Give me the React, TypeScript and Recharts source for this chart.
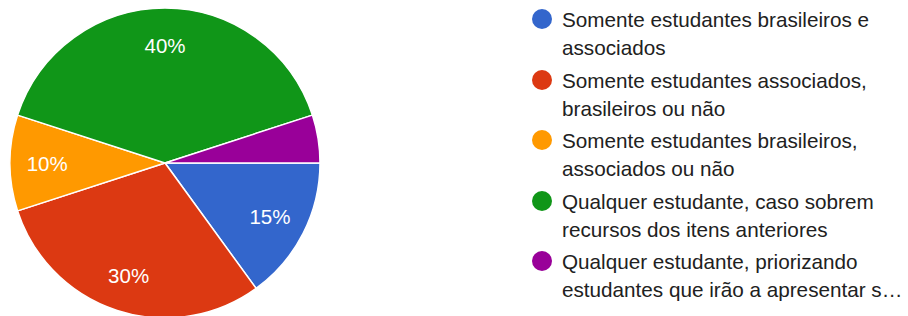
import { PieChart, Pie, Cell, Legend } from "recharts";

const categories = [
  "Somente estudantes brasileiros e associados",
  "Somente estudantes associados, brasileiros ou não",
  "Somente estudantes brasileiros, associados ou não",
  "Qualquer estudante, caso sobrem recursos dos itens anteriores",
  "Qualquer estudante, priorizando estudantes que irão a apresentar s…",
];

// legend text as it wraps in the original
const legendLines = [
  ["Somente estudantes brasileiros e", "associados"],
  ["Somente estudantes associados,", "brasileiros ou não"],
  ["Somente estudantes brasileiros,", "associados ou não"],
  ["Qualquer estudante, caso sobrem", "recursos dos itens anteriores"],
  ["Qualquer estudante, priorizando", "estudantes que irão a apresentar s…"],
];

const shares = [15, 30, 10, 40, 5];

const colors = ["#3366cc", "#dc3912", "#ff9900", "#109618", "#990099"];

const rows = categories.map((name, i) => ({ name, value: shares[i] }));

const FONT = '"Liberation Sans", Arial, Helvetica, sans-serif';
const RADIAN = Math.PI / 180;

function renderLabel(props: any) {
  const { cx, cy, midAngle, outerRadius, percent } = props;
  if (percent < 0.08) return null;
  const r = outerRadius * 0.76;
  const x = cx + r * Math.cos(-midAngle * RADIAN);
  const y = cy + r * Math.sin(-midAngle * RADIAN);
  return (
    <text x={x} y={y} fill="#fff" fontSize={20.5} fontFamily={FONT} textAnchor="middle" dominantBaseline="central">
      {`${Math.round(percent * 100)}%`}
    </text>
  );
}

function LegendBox() {
  // keep the data order (the default payload gets re-sorted)
  return (
    <div style={{ position: "relative", fontFamily: FONT, fontSize: 20.7, color: "#212121" }}>
      {rows.map((row, i) => (
        <div key={row.name} style={{ position: "absolute", left: 0, top: i * 60.5, lineHeight: "28px" }}>
          <span
            style={{
              position: "absolute",
              left: 0,
              top: 3,
              width: 20,
              height: 20,
              borderRadius: 10,
              background: colors[i],
            }}
          />
          <div style={{ marginLeft: 30, whiteSpace: "nowrap" }}>
            {legendLines[i].map((line, j) => (
              <div key={j}>{line}</div>
            ))}
          </div>
        </div>
      ))}
    </div>
  );
}

export default function App() {
  return (
    <div style={{ position: "absolute", left: 0, top: 0, width: 908, height: 316, background: "#fff" }}>
      <PieChart width={908} height={316} margin={{ top: 0, right: 0, bottom: 0, left: 0 }}>
        <Pie
          data={rows}
          dataKey="value"
          nameKey="name"
          cx={165}
          cy={163}
          outerRadius={155}
          startAngle={0}
          endAngle={-360}
          stroke="#fff"
          strokeWidth={1.5}
          label={renderLabel}
          labelLine={false}
          isAnimationActive={false}
        >
          {rows.map((r, i) => (
            <Cell key={r.name} fill={colors[i]} />
          ))}
        </Pie>
        <Legend
          layout="vertical"
          verticalAlign="top"
          align="right"
          content={<LegendBox />}
          wrapperStyle={{ left: 532, top: 6, width: 376, height: 310 }}
        />
      </PieChart>
    </div>
  );
}
